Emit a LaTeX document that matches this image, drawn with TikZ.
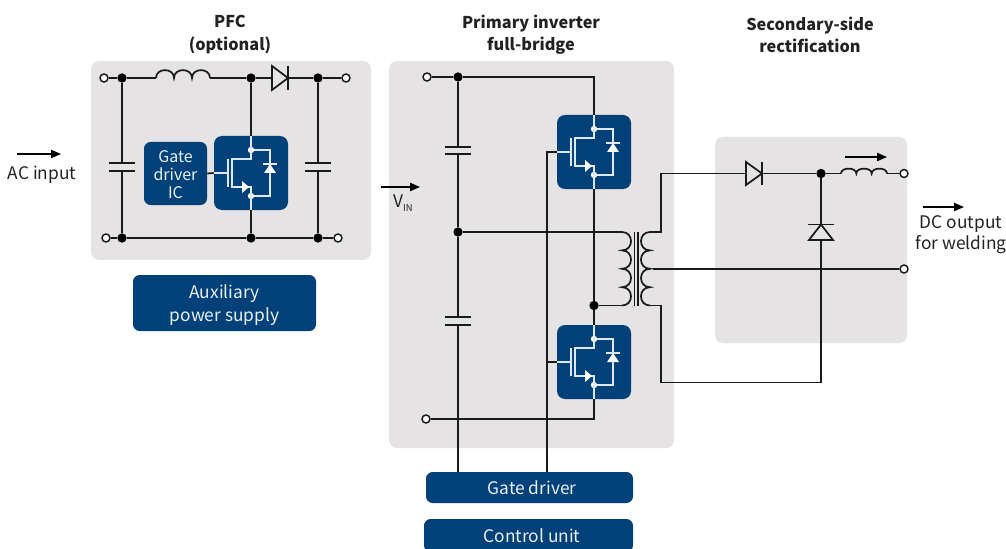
\documentclass[tikz,border=0pt]{standalone}
\usepackage{fontspec}
\setmainfont{Noto Sans CJK SC}
\usetikzlibrary{arrows.meta,calc}
\definecolor{bgrey}{HTML}{E6E3E4}
\definecolor{navy}{HTML}{00417A}
\definecolor{wire}{HTML}{1A1A1A}
\definecolor{ink}{HTML}{222222}
\newcommand{\inductor}[3]{% start coordinate, bump width, bump height
  #1 .. controls +(0,-#3) and +(0,-#3) .. ++(#2,0)
     .. controls +(0,-#3) and +(0,-#3) .. ++(#2,0)
     .. controls +(0,-#3) and +(0,-#3) .. ++(#2,0)}
\tikzset{
  x=0.75pt,y=-0.75pt,
  greybox/.style={fill=bgrey,rounded corners=6pt,inner sep=0pt},
  navybox/.style={fill=navy,rounded corners=5pt,inner sep=0pt},
  navytext/.style={text=white!92!navy,align=center,inner sep=0pt,font=\fontsize{13}{17.2}\selectfont},
  wireline/.style={draw=wire,line width=1.3pt,line join=miter},
  thinline/.style={draw=wire,line width=1.1pt},
  junction/.style={circle,fill=black,inner sep=0pt,minimum size=7pt},
  terminal/.style={circle,draw=wire,fill=white,line width=1.1pt,inner sep=0pt,minimum size=6pt},
  label/.style={text=ink,align=center,font=\fontsize{13}{16}\selectfont},
  title/.style={text=ink,align=center,font=\fontsize{12.2}{16.6}\selectfont\bfseries},
  flow/.style={draw=black,line width=1.1pt,-{Triangle[length=7.5pt,width=6.2pt]}},
  whiteline/.style={draw=white!88!navy,line width=1.1pt,line join=miter},
  mosfet/.pic={
    \node[fill=navy,rounded corners=6pt,minimum width=55.5pt,minimum height=55.5pt,inner sep=0pt] (-box) at (0,0) {};
    \node[circle,fill=white,inner sep=0pt,minimum size=4.8pt] (-d) at (0,-23) {};
    \node[circle,fill=white,inner sep=0pt,minimum size=4.8pt] (-s) at (0,23) {};
    \draw[whiteline] (-box.north) -- (0,-14) -- (-19,-14) -- (-19,14) -- (-2,14) -- (0,14) -- (-box.south);
    \draw[whiteline] (-d) -- (19,-23) -- (19,23) -- (-s);
    \draw[whiteline] (-23,-14) -- (-23,14);
    \draw[whiteline] (-box.west) -- (-23,0);
    \fill[white] (-9,8) -- (-2,14) -- (-9,20) -- cycle;
    \draw[whiteline] (12,-9) -- (26,-9);
    \fill[white] (19,-9) -- (25,0) -- (13,0) -- cycle;
  }
}
\begin{document}
\begin{tikzpicture}
\clip (0,0) rectangle (1006,549);
\useasboundingbox (0,0) rectangle (1006,549);

% grey panels
\node[greybox,minimum width=210pt,minimum height=149.25pt] (pfcpanel) at (231,160.5) {};
\node[greybox,minimum width=213.75pt,minimum height=290.25pt] (pripanel) at (531.5,254.5) {};
\node[greybox,minimum width=144pt,minimum height=154.5pt] (secpanel) at (811,240) {};

% titles and labels
\node[title] (tpfc) at (230,34.5) {PFC\\(optional)};
\node[title] (tpri) at (531,34.5) {Primary inverter\\full-bridge};
\node[title] (tsec) at (810,34.5) {Secondary-side\\rectification};
\node[label] (acin) at (42,175) {AC input};
\node[label] (dcout) at (961,234.5) {DC output\\[-0.5pt]for welding};
\node[text=ink,inner sep=0pt,font=\fontsize{13}{14}\selectfont] (vin) at (403,203) {V\raisebox{-3pt}{\fontsize{7}{8}\selectfont IN}};

% navy boxes
\node[navybox,minimum width=47.25pt,minimum height=47.25pt] (gic) at (175.5,173.5) {};
\node[navytext,font=\fontsize{12}{13.5}\selectfont] (gict) at (175.5,174.5) {Gate\\driver\\IC};
\node[navybox,minimum width=137.25pt,minimum height=42pt] (aux) at (224.5,303) {};
\node[navytext] (auxt) at (224.5,305) {Auxiliary\\power supply};
\node[navybox,minimum width=155.25pt,minimum height=23.25pt] (gd) at (529.5,487.5) {};
\node[navytext] (gdt) at (532,488) {Gate driver};
\node[navybox,minimum width=156.75pt,minimum height=24.75pt] (cu) at (528.5,535.5) {};
\node[navytext] (cut) at (532,535.5) {Control unit};

% --- PFC stage ---
\node[terminal] (a1) at (104,78) {};
\node[junction] (a2) at (122,78) {};
\node[junction] (a3) at (251,78) {};
\node[junction] (a4) at (318,78) {};
\node[terminal] (a5) at (346,78) {};
\node[terminal] (b1) at (106,238) {};
\node[junction] (b2) at (122,238) {};
\node[junction] (b3) at (251,238) {};
\node[junction] (b4) at (318,238) {};
\node[terminal] (b5) at (338,238) {};
\coordinate (lA) at (156,78);
\coordinate (lB) at (210,78);
\coordinate (ca1) at (122,163); \coordinate (ca2) at (122,171);
\coordinate (cb1) at (318,163); \coordinate (cb2) at (318,171);
\pic (q1) at (251,173) {mosfet};
\draw[wireline] (a1) -- (a2) -- (lA);
\draw[wireline] \inductor{(lA)}{18}{10.5};
\draw[wireline] (lB) -- (a3) -- (a4) -- (a5);
\draw[wireline] (b1) -- (b2) -- (b3) -- (b4) -- (b5);
\draw[wireline] (a2) -- (ca1) (ca2) -- (b2);
\draw[wireline] (a4) -- (cb1) (cb2) -- (b4);
\draw[wireline] ($(ca1)+(-13,0)$) -- ($(ca1)+(13,0)$) ($(ca2)+(-13,0)$) -- ($(ca2)+(13,0)$);
\draw[wireline] ($(cb1)+(-13,0)$) -- ($(cb1)+(13,0)$) ($(cb2)+(-13,0)$) -- ($(cb2)+(13,0)$);
\draw[wireline] (a3) -- (q1-box.north) (q1-box.south) -- (b3);
\draw[wireline] (gic.east) -- (q1-box.west);
\draw[wireline,fill=bgrey] (272,66) -- (288,78) -- (272,90) -- cycle;
\draw[wireline] (288,66) -- (288,90);

% --- primary inverter ---
\node[terminal] (p1) at (427,77) {};
\node[junction] (p2) at (458,77) {};
\coordinate (p3) at (594,77);
\node[junction] (p4) at (458,232) {};
\node[terminal] (p5) at (426,419) {};
\coordinate (p6) at (594,419);
\node[junction] (p7) at (594,305.5) {};
\coordinate (gx) at (547,300);
\coordinate (c1a) at (458,147); \coordinate (c1b) at (458,154);
\coordinate (c2a) at (458,317); \coordinate (c2b) at (458,325);
\pic (q2) at (594,152) {mosfet};
\pic (q3) at (594,362) {mosfet};
\draw[wireline] (p1) -- (p2) -- (p3) -- (q2-box.north);
\draw[wireline] (q2-box.south) -- (p7) -- (q3-box.north);
\draw[wireline] (q3-box.south) -- (p6) -- (p5);
\draw[wireline] (p2) -- (c1a) (c1b) -- (p4) -- (c2a);
\draw[wireline] (c2b) -- (p4 |- gd.north);
\draw[wireline] ($(c1a)+(-13,0)$) -- ($(c1a)+(13,0)$) ($(c1b)+(-13,0)$) -- ($(c1b)+(13,0)$);
\draw[wireline] ($(c2a)+(-13,0)$) -- ($(c2a)+(13,0)$) ($(c2b)+(-13,0)$) -- ($(c2b)+(13,0)$);
\draw[wireline] (gx |- gd.north) -- (gx |- q2-box.west) -- (q2-box.west);
\draw[wireline] (gx |- q3-box.west) -- (q3-box.west);

% --- transformer ---
\coordinate (tp1) at (622,232);
\coordinate (tp2) at (622,305.5);
\coordinate (ts1) at (650,232);
\coordinate (ts2) at (650,305.5);
\coordinate (tap) at (653,269);
\draw[wireline] (p4) -- (tp1);
\draw[wireline] (p7) -- (tp2);
\draw[wireline] (tp1) .. controls +(12,0) and +(12,0) .. ++(0,18.4)
  .. controls +(12,0) and +(12,0) .. ++(0,18.4)
  .. controls +(12,0) and +(12,0) .. ++(0,18.4)
  .. controls +(12,0) and +(12,0) .. (tp2);
\draw[wireline] (ts1) .. controls +(-12,0) and +(-12,0) .. ++(0,18.4)
  .. controls +(-12,0) and +(-12,0) .. ++(0,18.4)
  .. controls +(-12,0) and +(-12,0) .. ++(0,18.4)
  .. controls +(-12,0) and +(-12,0) .. (ts2);
\draw[thinline] (634.5,232) -- (634.5,305.5) (638,232) -- (638,305.5);

% --- secondary rectification ---
\node[junction] (s1) at (821,173.5) {};
\node[terminal] (s2) at (904,173.5) {};
\node[terminal] (s3) at (904,269) {};
\coordinate (s4) at (661,173.5);
\coordinate (s5) at (661,382.5);
\coordinate (s6) at (821,382.5);
\coordinate (ss1) at (661,232);
\coordinate (ss2) at (661,305.5);
\coordinate (l2A) at (841,173.5);
\coordinate (l2B) at (887,173.5);
\draw[wireline] (ts1) -- (ss1) -- (s4) -- (s1) -- (l2A);
\draw[wireline] \inductor{(l2A)}{15.33}{6.5};
\draw[wireline] (l2B) -- (s2);
\draw[wireline] (ts2) -- (ss2) -- (s5) -- (s6) -- (s1);
\draw[wireline] (tap) -- (s3);
\draw[wireline,fill=bgrey] (746,162) -- (762,173.5) -- (746,185) -- cycle;
\draw[wireline] (762,162) -- (762,185);
\draw[wireline,fill=bgrey] (821,224.5) -- (833,240) -- (809,240) -- cycle;
\draw[wireline] (808,224.5) -- (834,224.5);

% --- flow arrows ---
\coordinate (f1a) at (17,154); \coordinate (f1b) at (61,154);
\coordinate (f2a) at (381,187); \coordinate (f2b) at (420,187);
\coordinate (f3a) at (845,157); \coordinate (f3b) at (887,157);
\coordinate (f4a) at (923,207); \coordinate (f4b) at (964,207);
\draw[flow] (f1a) -- (f1b);
\draw[flow] (f2a) -- (f2b);
\draw[flow] (f3a) -- (f3b);
\draw[flow] (f4a) -- (f4b);
\end{tikzpicture}
\end{document}
